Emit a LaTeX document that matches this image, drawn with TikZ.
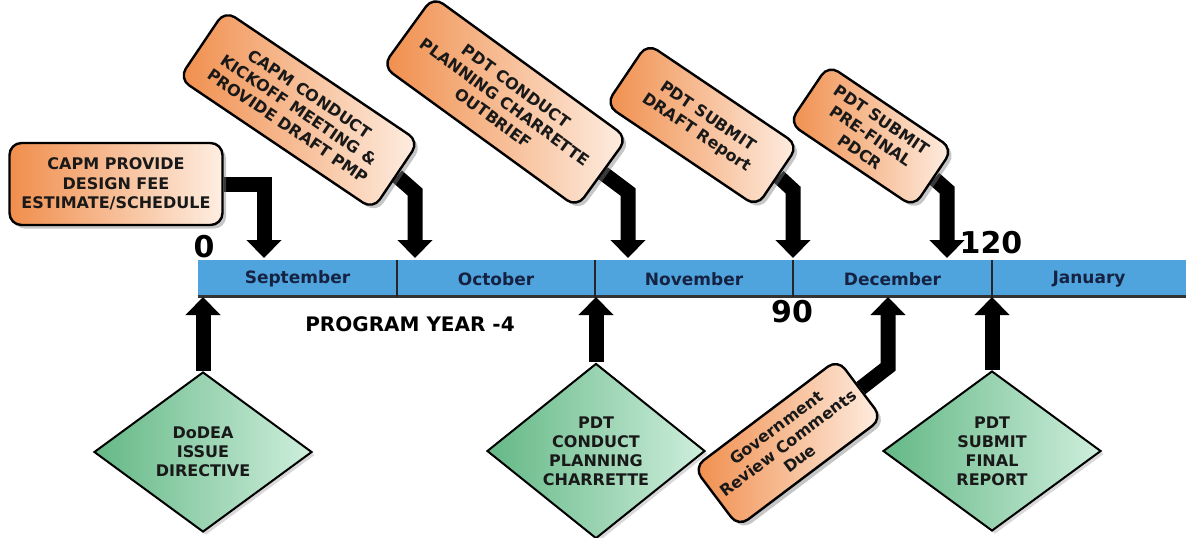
\documentclass[tikz,border=0pt]{standalone}
\usepackage{fontspec}
\setmainfont{DejaVu Sans}
\usetikzlibrary{shapes.geometric,arrows.meta,shadows,backgrounds}
\definecolor{barblue}{RGB}{80,164,222}
\definecolor{monthtext}{RGB}{22,34,66}
\definecolor{taskdark}{RGB}{240,142,76}
\definecolor{tasklight}{RGB}{254,238,226}
\definecolor{gatedark}{RGB}{100,184,134}
\definecolor{gatelight}{RGB}{206,238,220}
\tikzstyle{task}=[draw=black,line width=1.2pt,rounded corners=6pt,left color=taskdark,right color=tasklight,drop shadow={shadow xshift=1.8pt,shadow yshift=-1.8pt,opacity=0.45},align=center,text=black!90,inner sep=2pt,font=\fontsize{8}{9.75}\selectfont\bfseries]
\tikzstyle{gate}=[diamond,draw=black,line width=1pt,left color=gatedark,right color=gatelight,drop shadow={shadow xshift=1.5pt,shadow yshift=-1.5pt,opacity=0.3},minimum width=109pt,minimum height=80pt,inner sep=0pt,align=center,text=black!90,font=\fontsize{8}{9.5}\selectfont\bfseries]
\tikzstyle{flow}=[line width=7.5pt,line join=miter,-{Triangle[width=17pt,length=9pt]}]
\tikzstyle{month}=[text=monthtext,font=\fontsize{8.5}{10}\selectfont\bfseries]
\tikzstyle{daynum}=[font=\fontsize{15}{18}\selectfont\bfseries]

\begin{document}
\begin{tikzpicture}[x=0.5pt,y=-0.5pt]
\useasboundingbox (0,0) rectangle (1186,537);
% timeline
\coordinate (barhigh) at (0,258);
\coordinate (barlow) at (0,297);
\foreach \m/\x in {September/297.5,October/496,November/694,December/892.5,January/1089}
  \node[month] (\m) at (\x,279) {\m};
\node[daynum] (n0) at (204,247) {0};
\node[daynum] (n90) at (792,312) {90};
\node[daynum] (n120) at (991,243) {120};
\node[font=\fontsize{10}{12}\selectfont\bfseries] (year) at (410,324) {PROGRAM YEAR -4};
% tasks above the line
\node[task,minimum width=106.5pt,minimum height=41pt] (capm1) at (116,184) {CAPM PROVIDE\\DESIGN FEE\\ESTIMATE/SCHEDULE};
\node[task,minimum width=117pt,minimum height=41pt,rotate=-34] (capm2) at (299,110) {CAPM CONDUCT\\KICKOFF MEETING \&\\PROVIDE DRAFT PMP};
\node[task,minimum width=120pt,minimum height=43pt,rotate=-36] (pdt1) at (505,102) {PDT CONDUCT\\PLANNING CHARRETTE\\OUTBRIEF};
\node[task,minimum width=91pt,minimum height=37pt,rotate=-34] (pdt2) at (702,125) {PDT SUBMIT\\DRAFT Report};
\node[task,minimum width=75pt,minimum height=35pt,rotate=-34] (pdt3) at (871,136) {PDT SUBMIT\\PRE-FINAL\\PDCR};
% events below the line
\node[gate] (dodea) at (203,452) {DoDEA\\ISSUE\\DIRECTIVE};
\node[gate] (charrette) at (596,451) {PDT\\CONDUCT\\PLANNING\\CHARRETTE};
\node[gate] (final) at (992,451) {PDT\\SUBMIT\\FINAL\\REPORT};
\node[task,minimum width=90pt,minimum height=37pt,rotate=37] (review) at (788,443) {Government\\Review Comments\\Due};
% bends
\coordinate (k1) at (264,184);
\coordinate (k2) at (415,192);
\coordinate (k3) at (628,192);
\coordinate (k4) at (793,190);
\coordinate (k5) at (947,190);
\coordinate (kr) at (888,367);
\begin{scope}[on background layer]
\fill[barblue] (198,260) rectangle (1186,296);
\draw[line width=1.2pt,black!80] (198,296.5) -- (1186,296.5);
\foreach \x in {397,595,793,992}
  \draw[line width=0.8pt,black!85] (\x,260) -- (\x,297);
\draw[flow] (capm1.east) -- (k1) -- (k1 |- barhigh);
\draw[flow] (capm2.east) -- (k2) -- (k2 |- barhigh);
\draw[flow] (pdt1.east) -- (k3) -- (k3 |- barhigh);
\draw[flow] (pdt2.east) -- (k4) -- (k4 |- barhigh);
\draw[flow] (pdt3.east) -- (k5) -- (k5 |- barhigh);
\draw[flow] (dodea.north) -- (dodea.north |- barlow);
\draw[flow] (charrette.north) -- (charrette.north |- barlow);
\draw[flow] (final.north) -- (final.north |- barlow);
\draw[flow] (review.east) -- (kr) -- (kr |- barlow);
\end{scope}
\end{tikzpicture}
\end{document}
